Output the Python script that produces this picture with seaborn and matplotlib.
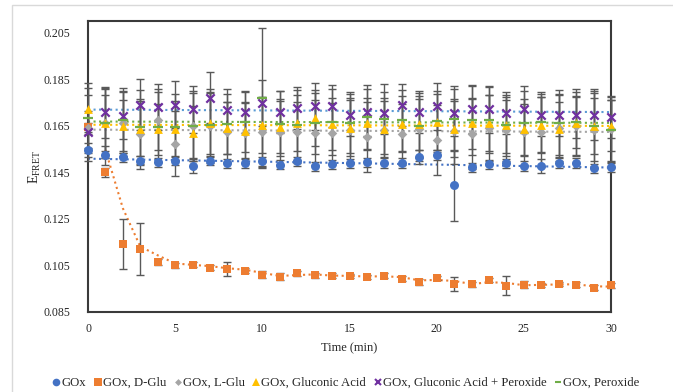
import numpy as np
import pandas as pd
import matplotlib
matplotlib.use("Agg")
import matplotlib.pyplot as plt
import seaborn as sns
from matplotlib.lines import Line2D
from matplotlib.patches import Rectangle

# Datos (E_FRET frente al tiempo)
tiempo = list(range(31))

gox = [0.1544, 0.1523, 0.1514, 0.1500, 0.1493, 0.1500, 0.1476, 0.1500, 0.1489, 0.1490,
       0.1497, 0.1483, 0.1497, 0.1476, 0.1484, 0.1489, 0.1493, 0.1490, 0.1490, 0.1514,
       0.1524, 0.1394, 0.1471, 0.1484, 0.1489, 0.1477, 0.1477, 0.1490, 0.1490, 0.1467, 0.1472]
gox_err = [0.003, 0.004, 0.002, 0.002, 0.002, 0.002, 0.003, 0.002, 0.002, 0.002,
           0.002, 0.002, 0.002, 0.002, 0.002, 0.002, 0.002, 0.002, 0.002, 0.003,
           0.002, 0.0154, 0.002, 0.002, 0.002, 0.002, 0.003, 0.002, 0.002, 0.002, 0.002]

d_glu = [0.1643, 0.1450, 0.1141, 0.1121, 0.1066, 0.1051, 0.1054, 0.1040, 0.1036, 0.1027,
         0.1009, 0.1001, 0.1016, 0.1007, 0.1006, 0.1004, 0.1001, 0.1006, 0.0993, 0.0979,
         0.0996, 0.0971, 0.0969, 0.0987, 0.0963, 0.0967, 0.0966, 0.0971, 0.0967, 0.0954, 0.0964]
d_glu_err = [0.002, 0.002, 0.0107, 0.011, 0.0012, 0.001, 0.001, 0.001, 0.003, 0.001,
             0.0015, 0.0015, 0.001, 0.001, 0.001, 0.001, 0.001, 0.001, 0.001, 0.0012,
             0.001, 0.003, 0.001, 0.001, 0.004, 0.0015, 0.001, 0.001, 0.001, 0.001, 0.001]

l_glu = [0.1640, 0.1660, 0.1660, 0.1613, 0.1676, 0.1573, 0.1650, 0.1650, 0.1623, 0.1620,
         0.1623, 0.1623, 0.1622, 0.1620, 0.1617, 0.1630, 0.1600, 0.1630, 0.1613, 0.1637,
         0.1590, 0.1626, 0.1616, 0.1640, 0.1630, 0.1623, 0.1623, 0.1640, 0.1649, 0.1630, 0.1634]
l_glu_err = [0.014, 0.015, 0.014, 0.015, 0.013, 0.014, 0.014, 0.016, 0.013, 0.013,
             0.015, 0.014, 0.013, 0.014, 0.013, 0.014, 0.015, 0.014, 0.013, 0.014,
             0.015, 0.014, 0.015, 0.014, 0.013, 0.014, 0.015, 0.014, 0.013, 0.016, 0.014]

gluconico = [0.1724, 0.1661, 0.1650, 0.1638, 0.1634, 0.1637, 0.1617, 0.1660, 0.1640, 0.1627,
             0.1654, 0.1645, 0.1663, 0.1684, 0.1658, 0.1640, 0.1660, 0.1637, 0.1658, 0.1656,
             0.1666, 0.1637, 0.1660, 0.1663, 0.1652, 0.1634, 0.1655, 0.1634, 0.1663, 0.1649, 0.1650]
gluconico_err = [0.011, 0.012, 0.011, 0.012, 0.011, 0.012, 0.012, 0.013, 0.011, 0.012,
                 0.012, 0.011, 0.012, 0.012, 0.011, 0.012, 0.011, 0.012, 0.012, 0.011,
                 0.012, 0.012, 0.011, 0.012, 0.012, 0.011, 0.012, 0.012, 0.011, 0.012, 0.011]

gluc_perox = [0.1623, 0.1708, 0.1694, 0.1740, 0.1730, 0.1741, 0.1720, 0.1770, 0.1716, 0.1708,
              0.1747, 0.1711, 0.1727, 0.1733, 0.1733, 0.1697, 0.1708, 0.1705, 0.1740, 0.1708,
              0.1733, 0.1706, 0.1720, 0.1720, 0.1706, 0.1720, 0.1697, 0.1697, 0.1697, 0.1697, 0.1687]
gluc_perox_err = [0.009, 0.011, 0.010, 0.011, 0.010, 0.010, 0.010, 0.011, 0.009, 0.009,
                  0.010, 0.009, 0.009, 0.010, 0.009, 0.009, 0.010, 0.009, 0.009, 0.009,
                  0.010, 0.010, 0.010, 0.010, 0.009, 0.010, 0.009, 0.009, 0.010, 0.011, 0.009]

peroxido = [0.1683, 0.1661, 0.1673, 0.1645, 0.1645, 0.1645, 0.1650, 0.1655, 0.1658, 0.1666,
            0.1770, 0.1658, 0.1652, 0.1660, 0.1666, 0.1663, 0.1687, 0.1680, 0.1673, 0.1650,
            0.1669, 0.1680, 0.1673, 0.1675, 0.1652, 0.1660, 0.1666, 0.1663, 0.1666, 0.1650, 0.1630]
peroxido_err = [0.013, 0.015, 0.014, 0.016, 0.015, 0.014, 0.015, 0.014, 0.013, 0.013,
                0.030, 0.014, 0.015, 0.013, 0.014, 0.013, 0.014, 0.015, 0.013, 0.014,
                0.013, 0.014, 0.015, 0.014, 0.013, 0.014, 0.013, 0.014, 0.014, 0.015, 0.013]

series = [
    ("GOx", gox, gox_err, "o", "#4472C4", "#4472C4", 42),
    ("GOx, D-Glu", d_glu, d_glu_err, "s", "#ED7D31", "#ED7D31", 38),
    ("GOx, L-Glu", l_glu, l_glu_err, "D", "#A5A5A5", "#A5A5A5", 24),
    ("GOx, Gluconic Acid", gluconico, gluconico_err, "^", "#FFC000", "#FFC000", 40),
    ("GOx, Gluconic Acid + Peroxide", gluc_perox, gluc_perox_err, "x", "#7030A0", "#5B9BD5", 36),
    ("GOx, Peroxide", peroxido, peroxido_err, "_", "#70AD47", "#70AD47", 44),
]

sns.set_theme(style="white")
plt.rcParams["font.family"] = ["Liberation Serif", "DejaVu Serif"]
plt.rcParams["mathtext.default"] = "regular"

fig = plt.figure(figsize=(6.73, 3.92), dpi=100)
fig.patches.append(Rectangle((12 / 673, -0.2), 1.2, 1.2 - 5 / 392, transform=fig.transFigure,
                             fill=False, edgecolor="#d9d9d9", linewidth=1.0))
ax = fig.add_axes([88 / 673, 1 - 312 / 392, 523 / 673, 291 / 392])

for nombre, y, err, marca, color, color_tend, tam in series:
    df = pd.DataFrame({"t": tiempo, "y": y})
    # tendencias
    if nombre == "GOx, D-Glu":
        df["ma"] = df["y"].rolling(2).mean()
        sns.lineplot(data=df.dropna(), x="t", y="ma", ax=ax, color=color_tend,
                     linestyle=":", linewidth=1.5, zorder=2)
    else:
        sns.regplot(data=df, x="t", y="y", ax=ax, scatter=False, ci=None,
                    line_kws=dict(color=color_tend, linestyle=":", linewidth=1.5, zorder=2))
    ax.errorbar(tiempo, y, yerr=err, fmt="none", ecolor="#595959", elinewidth=1.0,
                capsize=2.8, capthick=1.0, zorder=3, clip_on=False)
    lw = 1.6 if marca in ("x", "_") else 0
    sns.scatterplot(data=df, x="t", y="y", ax=ax, marker=marca, s=tam, color=color,
                    edgecolor=color, linewidth=lw, zorder=4, clip_on=False)

ax.set_xlim(0, 30)
ax.set_ylim(0.085, 0.21)
ax.set_xticks(range(0, 31, 5))
ax.set_yticks(np.arange(0.085, 0.2051, 0.02))
ax.set_yticklabels([f"{v:.3f}" for v in np.arange(0.085, 0.2051, 0.02)])
ax.tick_params(axis="both", length=0, labelsize=8.5, colors="#262626")
ax.tick_params(axis="y", pad=13)
ax.tick_params(axis="x", pad=8)
for lado in ax.spines.values():
    lado.set_color("#3a3a3a")
    lado.set_linewidth(1.5)
ax.set_xlabel("Time (min)", fontsize=9, color="#262626", labelpad=5)
ax.set_ylabel("$E_{FRET}$", fontsize=10, color="#262626", labelpad=0)

handles = []
for nombre, y, err, marca, color, color_tend, tam in series:
    if marca in ("x", "_"):
        h = Line2D([], [], linestyle="none", marker=marca, color=color, markersize=5,
                   markeredgewidth=1.5, label=nombre)
    else:
        h = Line2D([], [], linestyle="none", marker=marca, color=color,
                   markersize=5.5 if marca != "D" else 3.5, markeredgewidth=0, label=nombre)
    handles.append(h)
fig.legend(handles=handles, loc="center", bbox_to_anchor=(346 / 673, 1 - 383 / 392), ncol=6,
           frameon=False, fontsize=9.2, handlelength=0.6, handletextpad=0.1,
           columnspacing=0.6, borderaxespad=0)

fig.savefig("out.png", dpi=100)
